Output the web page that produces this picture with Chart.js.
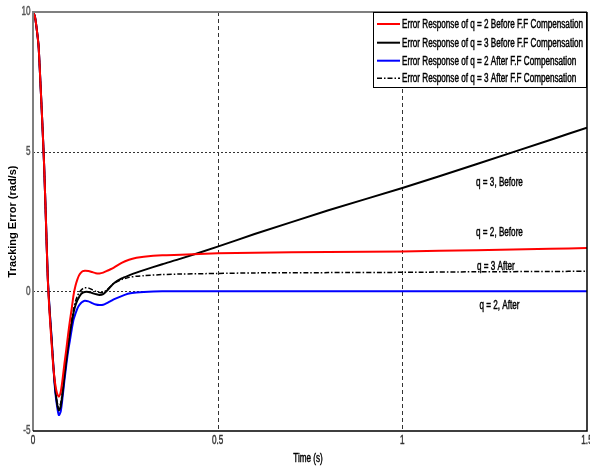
<!DOCTYPE html>
<html><head><meta charset="utf-8">
<script src="https://cdn.jsdelivr.net/npm/chart.js@4.4.1/dist/chart.umd.min.js"></script>
<style>html,body{margin:0;padding:0;background:#fff}</style>
</head><body>
<canvas id="c" width="590" height="466"></canvas>
<script>
const time = [0,0.005,0.01,0.015,0.02,0.025,0.03,0.035,0.04,0.045,0.05,0.055,0.06,0.065,0.07,0.075,0.08,0.085,0.09,0.095,0.1,0.105,0.11,0.115,0.12,0.125,0.13,0.135,0.14,0.15,0.16,0.17,0.18,0.19,0.2,0.21,0.22,0.24,0.26,0.28,0.3,0.35,0.4,0.5,0.6,0.8,1.0,1.2,1.4,1.5];
const q2Before = [10,9.85,9.4,8.8,7.5,6.1,4.55,2.55,0.45,-0.8,-1.8,-2.7,-3.3,-3.65,-3.77,-3.6,-3.15,-2.6,-2.1,-1.55,-1.05,-0.6,-0.12,0.2,0.42,0.58,0.67,0.72,0.74,0.73,0.69,0.65,0.64,0.67,0.73,0.79,0.86,1.02,1.13,1.2,1.24,1.29,1.31,1.36,1.38,1.41,1.43,1.47,1.52,1.55];
const q3Before = [10,9.85,9.4,8.8,7.5,6.1,4.55,2.55,0.5,-0.7,-1.65,-2.65,-3.45,-4.0,-4.26,-4.12,-3.65,-3.05,-2.5,-1.98,-1.5,-1.1,-0.75,-0.5,-0.32,-0.2,-0.1,-0.05,-0.02,-0.02,-0.06,-0.1,-0.13,-0.1,0.02,0.17,0.3,0.46,0.57,0.67,0.76,0.97,1.17,1.6,2.05,2.9,3.7,4.55,5.42,5.86];
const q2After = [10,9.85,9.4,8.8,7.5,6.1,4.55,2.55,0.5,-0.65,-1.6,-2.65,-3.55,-4.1,-4.43,-4.3,-3.8,-3.2,-2.65,-2.15,-1.75,-1.35,-1.0,-0.8,-0.62,-0.5,-0.42,-0.37,-0.34,-0.36,-0.42,-0.47,-0.49,-0.48,-0.42,-0.35,-0.28,-0.17,-0.08,-0.04,-0.02,0,0,0,0,0,0,0,0,0];
const q3After = [10,9.85,9.4,8.8,7.5,6.1,4.55,2.55,0.5,-0.7,-1.65,-2.65,-3.5,-3.95,-4.15,-4.0,-3.55,-2.95,-2.4,-1.88,-1.4,-0.98,-0.62,-0.36,-0.17,-0.05,0.04,0.1,0.13,0.12,0.06,0.0,-0.04,-0.04,0.05,0.18,0.3,0.42,0.5,0.54,0.56,0.6,0.62,0.64,0.66,0.67,0.68,0.7,0.71,0.72];
const seriesLabels = ["Error Response of q = 2 Before F.F Compensation","Error Response of q = 3 Before F.F Compensation","Error Response of q = 2 After F.F Compensation","Error Response of q = 3 After F.F Compensation"];
const annotationTexts = ["q = 3, Before","q = 2, Before","q = 3 After","q = 2, After"];
const xTickLabels = ["0","0.5","1","1.5"];
const xTickValues = [0,0.5,1,1.5];
const yTickLabels = ["-5","0","5","10"];
const yTickValues = [-5,0,5,10];
const xTitle = "Time (s)";
const yTitle = "Tracking Error (rad/s)";

const SANS = '"Liberation Sans",Arial,sans-serif';
const pts = arr => time.map((t,i)=>({x:t,y:arr[i]}));

const styles = [
  {borderColor:'#ff0000',borderWidth:2,borderDash:[]},
  {borderColor:'#000000',borderWidth:2,borderDash:[]},
  {borderColor:'#0000ff',borderWidth:2,borderDash:[]},
  {borderColor:'#000000',borderWidth:1.5,borderDash:[5,2,1.5,2]}
];
const seriesData = [q2Before,q3Before,q2After,q3After];

let SX = 0.69;
function narrow(ctx, txt, x, y, align, size, color){
  ctx.save();
  ctx.font = size+'px '+SANS;
  ctx.fillStyle = color || '#000';
  ctx.strokeStyle = color || '#000';
  ctx.lineWidth = 0.45;
  ctx.setLineDash([]);
  ctx.textBaseline = 'middle';
  ctx.textAlign = align;
  ctx.translate(x, y);
  ctx.scale(SX, 1);
  ctx.fillText(txt, 0, 0);
  ctx.strokeText(txt, 0, 0);
  ctx.restore();
}

const decor = {
  id:'decor',
  beforeDatasetsDraw(chart){
    const {ctx, chartArea:a, scales:{x,y}} = chart;
    ctx.save();
    ctx.font = '12px '+SANS;
    SX = 181 / ctx.measureText(seriesLabels[0]).width;
    ctx.strokeStyle='#333'; ctx.lineWidth=1;
    ctx.setLineDash([4,3]);
    xTickValues.forEach(v=>{ if(v>x.min && v<x.max){ const px=Math.round(x.getPixelForValue(v))+0.5; ctx.beginPath(); ctx.moveTo(px,a.top); ctx.lineTo(px,a.bottom); ctx.stroke(); }});
    ctx.setLineDash([2,2]);
    yTickValues.forEach(v=>{ if(v>y.min && v<y.max){ const py=Math.round(y.getPixelForValue(v))+0.5; ctx.beginPath(); ctx.moveTo(a.left,py); ctx.lineTo(a.right,py); ctx.stroke(); }});
    ctx.restore();
  },
  afterDatasetsDraw(chart){
    const {ctx, chartArea:a, scales:{x,y}} = chart;
    ctx.save();
    ctx.setLineDash([]);
    ctx.strokeStyle='#7f7f7f'; ctx.lineWidth=2;
    ctx.beginPath(); ctx.moveTo(a.left,a.bottom); ctx.lineTo(a.left,a.top); ctx.lineTo(a.right,a.top); ctx.stroke();
    ctx.strokeStyle='#000'; ctx.lineWidth=1.5;
    ctx.beginPath(); ctx.moveTo(a.left,a.bottom); ctx.lineTo(a.right,a.bottom); ctx.lineTo(a.right,a.top); ctx.stroke();
    xTickValues.forEach((v,i)=> narrow(ctx, xTickLabels[i], x.getPixelForValue(v), a.bottom+10, 'center', 12, '#333'));
    yTickValues.forEach((v,i)=> narrow(ctx, yTickLabels[i], a.left-2.5, y.getPixelForValue(v), 'right', 12, '#555'));
    narrow(ctx, xTitle, (a.left+a.right)/2-2, a.bottom+27.5, 'center', 12, '#000');
    const lx=373, ly=12, lw=a.right-373, lh=76;
    ctx.fillStyle='#fff'; ctx.fillRect(lx,ly,lw,lh);
    ctx.strokeStyle='#000'; ctx.lineWidth=1; ctx.strokeRect(lx+0.5,ly+0.5,lw-1,lh-1);
    const rows=[24,42.7,60.7,78.3];
    seriesLabels.forEach((lab,i)=>{
      const s=styles[i];
      ctx.strokeStyle=s.borderColor; ctx.lineWidth=s.borderWidth; ctx.setLineDash(s.borderDash);
      ctx.beginPath(); ctx.moveTo(377,rows[i]); ctx.lineTo(400,rows[i]); ctx.stroke();
      ctx.setLineDash([]);
      narrow(ctx, lab, 402, rows[i]+0.5, 'left', 12, '#000');
    });
    const ann=[[1.263,3.9],[1.263,2.11],[1.253,0.9],[1.263,-0.5]];
    annotationTexts.forEach((txt,i)=>{
      narrow(ctx, txt, x.getPixelForValue(ann[i][0]), y.getPixelForValue(ann[i][1]), 'center', 12, '#000');
    });
    ctx.restore();
  }
};

new Chart(document.getElementById('c'),{
  type:'line',
  data:{datasets:seriesData.map((d,i)=>Object.assign({label:seriesLabels[i],data:pts(d),pointRadius:0,fill:false,tension:0.25},styles[i]))},
  options:{
    responsive:false, animation:false, devicePixelRatio:1,
    layout:{padding:{top:12,right:3,left:0,bottom:0}},
    plugins:{legend:{display:false},tooltip:{enabled:false}},
    scales:{
      x:{type:'linear',min:0,max:1.5,
        ticks:{display:false,stepSize:0.5},
        grid:{display:false,drawTicks:false}, border:{display:false},
        title:{display:false},
        afterFit(s){s.height=35;s.paddingLeft=0;s.paddingRight=0;}
      },
      y:{type:'linear',min:-5,max:10,
        ticks:{display:false,stepSize:5},
        grid:{display:false,drawTicks:false}, border:{display:false},
        title:{display:true,text:yTitle,color:'#000',font:{family:SANS,size:11,weight:'bold'},padding:{top:6,bottom:0}},
        afterFit(s){s.width=33;s.paddingTop=0;s.paddingBottom=0;}
      }
    }
  },
  plugins:[decor]
});
</script>
</body></html>
